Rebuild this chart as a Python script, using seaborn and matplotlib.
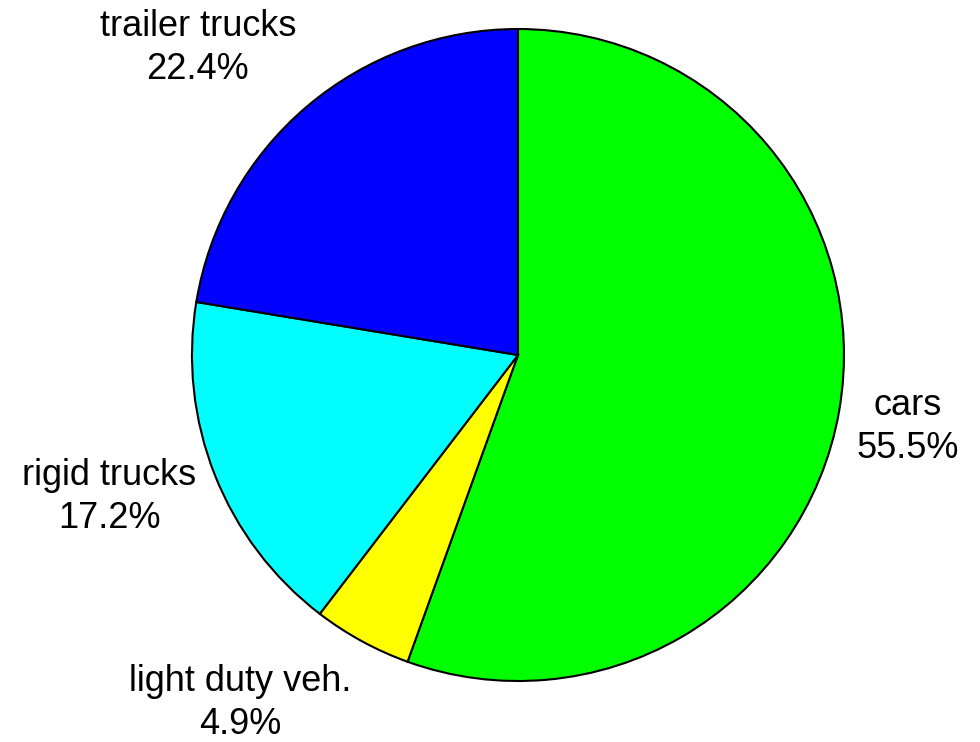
import numpy as np
import matplotlib
matplotlib.use('Agg')
import matplotlib.pyplot as plt
import matplotlib.transforms as mtransforms
import seaborn as sns

# shares of vehicle categories (percent), clockwise from the top
categorias = ['cars', 'light duty veh.', 'rigid trucks', 'trailer trucks']
valores = [55.5, 4.9, 17.2, 22.4]
cores = ['#00ff00', '#ffff00', '#00ffff', '#0000ff']

# pequenos deslocamentos dos rótulos (pixels)
desloc = [(-15, -10), (5, 6), (12, -10), (10, -5)]

sns.set_theme(style='white')
plt.rcParams['font.family'] = ['Liberation Sans', 'DejaVu Sans']

fig = plt.figure(figsize=(9.8, 7.42), dpi=100)
ax = fig.add_axes([0.1959, 0.0822, 0.6653, 0.8787])

rotulos = [f'{c}\n{v:.1f}%' for c, v in zip(categorias, valores)]
fatias, textos = ax.pie(
    valores, labels=rotulos, colors=cores, startangle=90, counterclock=False,
    labeldistance=1.1, radius=1.0,
    wedgeprops={'edgecolor': 'black', 'linewidth': 1.5},
    textprops={'fontsize': 26, 'color': 'black', 'linespacing': 1.3},
)

# alinhamento dos rótulos conforme o quadrante
for fatia, texto, (dx, dy) in zip(fatias, textos, desloc):
    ang = np.deg2rad((fatia.theta1 + fatia.theta2) / 2)
    x, y = np.cos(ang), np.sin(ang)
    texto.set_ha('left' if x > 0 else 'right')
    texto.set_multialignment('center')
    if abs(y) < 0.4:
        texto.set_va('center')
    else:
        texto.set_va('bottom' if y > 0 else 'top')
    texto.set_transform(mtransforms.offset_copy(ax.transData, fig=fig, x=dx, y=dy, units='dots'))

ax.set_xlim(-1, 1)
ax.set_ylim(-1, 1)
ax.set_aspect('equal')
ax.axis('off')

fig.savefig('out.png', dpi=100, facecolor='white')
plt.close(fig)
